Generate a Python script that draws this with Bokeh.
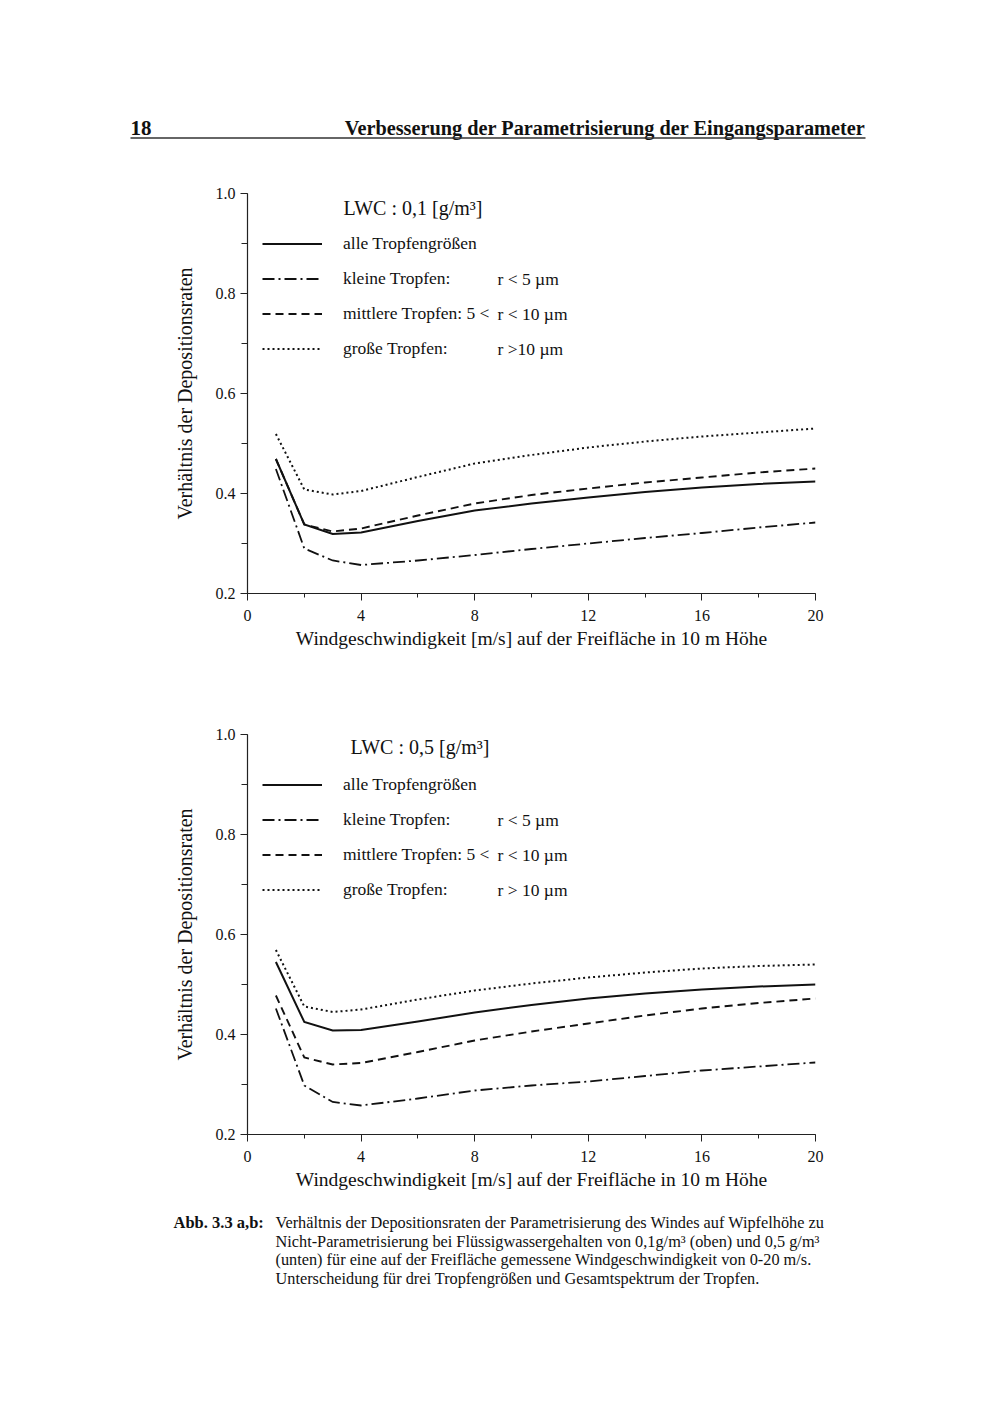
from bokeh.plotting import figure
from bokeh.models import (Range1d, SingleIntervalTicker, Legend, LegendItem, Label,
                          PrintfTickFormatter)
from bokeh.layouts import column
from bokeh.embed import file_html
from bokeh.resources import INLINE
from bokeh.core.properties import value

FONT = "Liberation Serif"
INK = "#111111"

# ---------------- data ----------------
wind = [1, 2, 3, 4, 6, 8, 10, 12, 14, 16, 18, 20]

# (a) LWC 0,1 g/m3
alle_a   = [0.469, 0.338, 0.319, 0.322, 0.345, 0.366, 0.380, 0.392, 0.403, 0.412, 0.419, 0.424]
klein_a  = [0.449, 0.290, 0.266, 0.257, 0.266, 0.277, 0.289, 0.300, 0.311, 0.321, 0.332, 0.342]
mittel_a = [0.469, 0.338, 0.324, 0.330, 0.356, 0.380, 0.397, 0.410, 0.422, 0.432, 0.442, 0.450]
gross_a  = [0.519, 0.408, 0.398, 0.405, 0.433, 0.460, 0.477, 0.492, 0.504, 0.514, 0.522, 0.530]

# (b) LWC 0,5 g/m3
alle_b   = [0.545, 0.425, 0.408, 0.409, 0.426, 0.444, 0.459, 0.472, 0.482, 0.490, 0.496, 0.500]
klein_b  = [0.452, 0.298, 0.265, 0.258, 0.272, 0.288, 0.298, 0.306, 0.317, 0.328, 0.336, 0.344]
mittel_b = [0.478, 0.354, 0.340, 0.343, 0.365, 0.388, 0.406, 0.422, 0.438, 0.452, 0.463, 0.472]
gross_b  = [0.569, 0.456, 0.445, 0.450, 0.470, 0.488, 0.502, 0.514, 0.524, 0.532, 0.537, 0.540]

legend_labels = ["alle Tropfengrößen", "kleine Tropfen:", "mittlere Tropfen: 5 <", "große Tropfen:"]
rcol_a = ["r <  5 µm", "r < 10 µm", "r >10 µm"]
rcol_b = ["r <  5 µm", "r < 10 µm", "r > 10 µm"]
title_a = "LWC : 0,1 [g/m³]"
title_b = "LWC : 0,5 [g/m³]"

x_label = "Windgeschwindigkeit [m/s] auf der Freifläche in 10 m Höhe"
y_label = "Verhältnis der Depositionsraten"

header_num = "18"
header_title = "Verbesserung der Parametrisierung der Eingangsparameter"
caption_head = "Abb. 3.3 a,b:"
caption_lines = [
    "Verhältnis der Depositionsraten der Parametrisierung des Windes auf Wipfelhöhe zu",
    "Nicht-Parametrisierung bei Flüssigwassergehalten von 0,1g/m³ (oben) und 0,5 g/m³",
    "(unten) für eine auf der Freifläche gemessene Windgeschwindigkeit von 0-20 m/s.",
    "Unterscheidung für drei Tropfengrößen und Gesamtspektrum der Tropfen.",
]

W = 992
FRAME_L = 247
FRAME_W = 568
FRAME_H = 400

LEG_ROW = 21
LEG_GAP = 14
LEG_Y = 234

styles = [
    dict(line_width=2.0, line_dash="solid"),
    dict(line_width=1.8, line_dash="12 4 2 4"),
    dict(line_width=1.9, line_dash="8 5"),
    dict(line_width=2.0, line_dash="2 3"),
]


def px2x(px):
    return (px - FRAME_L) / FRAME_W * 20.0


def make_chart(series, title, title_px, title_dy, rcol, height, top, frame_bottom_page):
    bottom = height - top - FRAME_H
    p = figure(width=W, height=height, output_backend="svg", toolbar_location=None,
               x_range=Range1d(0, 20), y_range=Range1d(0.2, 1.0),
               min_border_left=FRAME_L, min_border_right=W - FRAME_L - FRAME_W,
               min_border_top=top, min_border_bottom=bottom)
    p.outline_line_color = None
    p.grid.visible = False
    p.background_fill_color = "white"
    p.border_fill_color = "white"

    renderers = []
    for ys, st in zip(series, styles):
        r = p.line(wind, ys, line_color=INK, line_join="miter", **st)
        renderers.append(r)

    for ax in (p.xaxis[0], p.yaxis[0]):
        ax.axis_line_color = "#222222"
        ax.axis_line_width = 1.2
        ax.major_tick_line_color = "#222222"
        ax.minor_tick_line_color = "#222222"
        ax.major_tick_in = 0
        ax.minor_tick_in = 0
        ax.major_label_text_font = FONT
        ax.major_label_text_font_size = "16px"
        ax.major_label_text_color = INK
        ax.axis_label_text_font = FONT
        ax.axis_label_text_font_size = "19.5px"
        ax.axis_label_text_font_style = "normal"
        ax.axis_label_text_color = INK
    p.yaxis.axis_label_text_font_size = "20px"

    p.xaxis.ticker = SingleIntervalTicker(interval=4, num_minor_ticks=2)
    p.yaxis.ticker = SingleIntervalTicker(interval=0.2, num_minor_ticks=2)
    p.yaxis.formatter = PrintfTickFormatter(format="%.1f")
    p.xaxis.major_tick_out = 7
    p.xaxis.minor_tick_out = 4
    p.yaxis.major_tick_out = 7
    p.yaxis.minor_tick_out = 6
    p.xaxis.major_label_standoff = 9
    p.yaxis.major_label_standoff = 5
    p.xaxis.axis_label_standoff = 4
    p.yaxis.axis_label_standoff = 17
    p.xaxis.axis_label = x_label
    p.yaxis.axis_label = y_label

    items = [LegendItem(label=lab, renderers=[r]) for lab, r in zip(legend_labels, renderers)]
    leg = Legend(items=items, location=(15, LEG_Y), orientation="vertical",
                 glyph_width=60, glyph_height=LEG_ROW, label_height=LEG_ROW, spacing=LEG_GAP,
                 label_standoff=21, padding=0, margin=0,
                 border_line_alpha=0, background_fill_alpha=0,
                 label_text_font=FONT, label_text_font_size="17.5px",
                 label_text_color=INK)
    p.add_layout(leg, "center")

    def py2y(py):
        return 0.2 + (frame_bottom_page - py) / 500.0

    leg_top = frame_bottom_page - LEG_Y - LEG_ROW * 4 - LEG_GAP * 3
    rows = [leg_top + LEG_ROW / 2 + (LEG_ROW + LEG_GAP) * i for i in range(4)]
    p.add_layout(Label(x=px2x(title_px), y=py2y(rows[0] - title_dy), text=title,
                       text_font=FONT, text_font_size="20px", text_color=INK,
                       text_baseline="middle"))
    for i, t in enumerate(rcol):
        p.add_layout(Label(x=px2x(497), y=py2y(rows[i + 1]), text=t,
                           text_font=FONT, text_font_size="17.5px", text_color=INK,
                           text_baseline="middle"))
    return p


def text_fig(height):
    f = figure(width=W, height=height, output_backend="svg", toolbar_location=None,
               x_range=Range1d(0, W), y_range=Range1d(height, 0),
               min_border=0, x_axis_location=None, y_axis_location=None)
    f.outline_line_color = None
    f.grid.visible = False
    f.background_fill_color = "white"
    f.border_fill_color = "white"
    return f


# header: page y 0..160 (coordinates = page pixels)
hdr = text_fig(160)
hdr.text(x=[130], y=[127], text=[header_num], text_font=value(FONT), text_font_style="bold",
         text_font_size="21px", text_color=INK, text_baseline="middle", text_align="left")
hdr.text(x=[865], y=[127], text=[header_title], text_font=value(FONT), text_font_style="bold",
         text_font_size="20.3px", text_color=INK, text_baseline="middle", text_align="right")
hdr.segment(x0=[130], y0=[137.5], x1=[865], y1=[137.5], line_color="#333333", line_width=1.4)

# chart a: page y 160..718 ; frame 193..593
pa = make_chart([alle_a, klein_a, mittel_a, gross_a], title_a, 343, 36, rcol_a, 558, 33, 593)
# chart b: page y 718..1200 ; frame 734..1134
pb = make_chart([alle_b, klein_b, mittel_b, gross_b], title_b, 350, 38, rcol_b, 482, 16, 1134)

# caption: page y 1200..1406 (local y = page y - 1200)
cap = text_fig(206)
cap.text(x=[173], y=[22], text=[caption_head], text_font=value(FONT), text_font_style="bold",
         text_font_size="16.5px", text_color=INK, text_baseline="middle")
cap.text(x=[275] * 4, y=[22, 40.5, 59, 77.5], text=caption_lines, text_font=value(FONT),
         text_font_size="16.3px", text_color=INK, text_baseline="middle")

layout = column(hdr, column(pa, pb, spacing=0), cap, spacing=0)
open("out.html", "w").write(file_html(layout, INLINE))
